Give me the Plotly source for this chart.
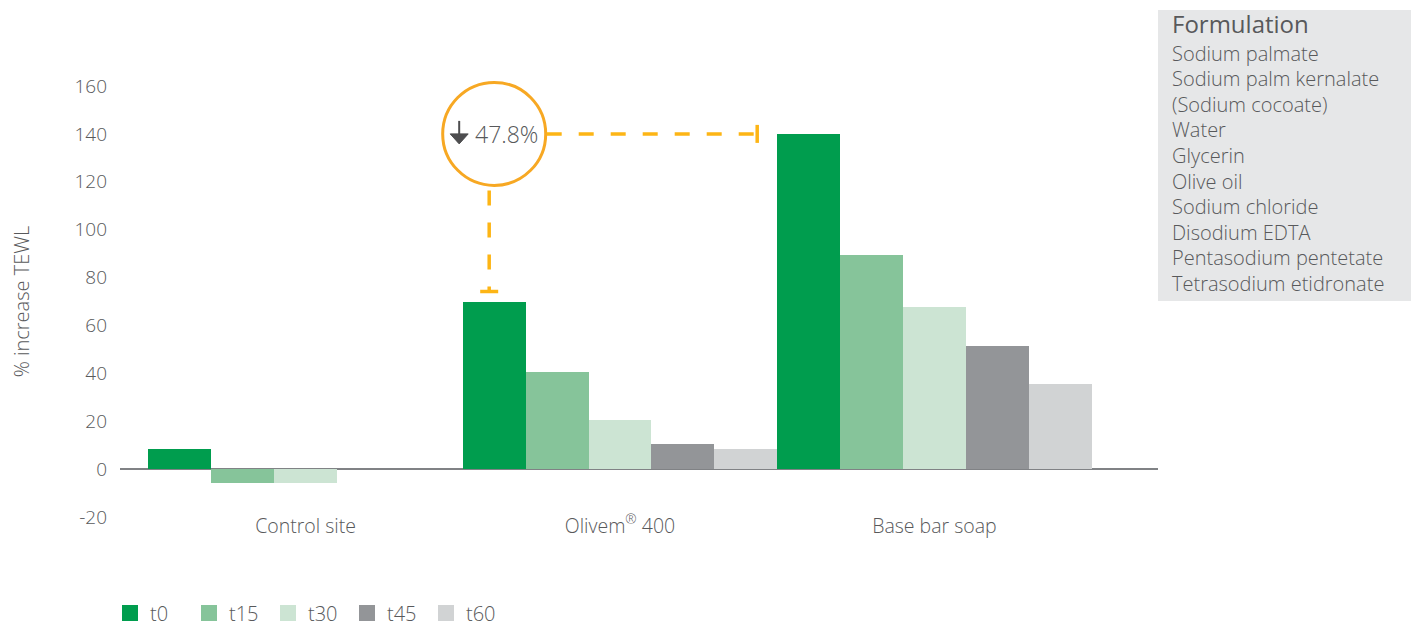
import plotly.graph_objects as go

# ---------------- data ----------------
categories = ["Control site", "Olivem® 400", "Base bar soap"]
tick_labels = ["Control site", "Olivem<sup>®</sup> 400", "Base bar soap"]
series_names = ["t0", "t15", "t30", "t45", "t60"]
t0_values = [8.5, 70, 140]
t15_values = [-6, 40.5, 89.5]
t30_values = [-6, 20.5, 67.5]
t45_values = [None, 10.5, 51.5]
t60_values = [None, 8.5, 35.5]
y_tick_values = [-20, 0, 20, 40, 60, 80, 100, 120, 140, 160]
reduction_label = "47.8%"
y_title = "% increase TEWL"
formulation_title = "Formulation"
formulation_items = [
    "Sodium palmate",
    "Sodium palm kernalate",
    "(Sodium cocoate)",
    "Water",
    "Glycerin",
    "Olive oil",
    "Sodium chloride",
    "Disodium EDTA",
    "Pentasodium pentetate",
    "Tetrasodium etidronate",
]

# ---------------- style ----------------
colors = ["#009D4E", "#86C49A", "#CCE4D3", "#939598", "#D1D3D4"]
text_color = "#58595B"
font_family = "'Open Sans', Lato, sans-serif"
font_weight = 300
orange_circle = "#F7A823"
orange_dash = "#FDB515"
arrow_color = "#4D4D4F"

W, H = 1419, 624
OFF = 8                                  # page body offset
PL, PR, PT, PB = 120, 1158, 86, 517      # plot area in page pixels
plot_w = PR - PL
plot_h = PB - PT
x_range = [-0.59, 2.711]
y_range = [-20, 160]


def pxx(p):
    return (p - PL) / plot_w


def pxy(p):
    return (PB - p) / plot_h


def dx(v):  # data x -> paper
    return (v - x_range[0]) / (x_range[1] - x_range[0])


def dy(v):  # data y -> paper
    return (v - y_range[0]) / (y_range[1] - y_range[0])


all_series = [t0_values, t15_values, t30_values, t45_values, t60_values]
n_series = len(all_series)
bar_w = 1.0 / n_series

fig = go.Figure()
for name, vals, col in zip(series_names, all_series, colors):
    fig.add_trace(go.Bar(name=name, x=categories, y=vals, marker_color=col,
                         marker_line_width=0, showlegend=False))
# legend entries (larger square swatches)
for name, col in zip(series_names, colors):
    fig.add_trace(go.Scatter(name=name, x=[None], y=[None], mode="markers",
                             marker=dict(symbol="square", size=16, color=col),
                             showlegend=True, hoverinfo="skip"))

# ---------------- reduction callout ----------------
olivem_idx = categories.index("Olivem® 400")
base_idx = categories.index("Base bar soap")
circle_x = dx(olivem_idx - 0.5 + bar_w / 2)      # centre of Olivem t0 bar (paper)
circle_y = dy(t0_values[base_idx])               # level of base soap t0 (paper)
base_bar_left = dx(base_idx - 0.5)               # left edge of base soap t0 bar (paper)
olivem_top = dy(t0_values[olivem_idx])
r = 51.5
ux = 1 / plot_w   # one pixel in paper x
uy = 1 / plot_h   # one pixel in paper y

dash_line = dict(color=orange_dash, width=3.5, dash="15px,17px")
cap_line = dict(color=orange_dash, width=3.5)
shapes = []
shapes.append(dict(type="circle", xref="paper", yref="paper", xsizemode="pixel", ysizemode="pixel",
                   xanchor=circle_x, yanchor=circle_y, x0=-r, x1=r, y0=-r, y1=r,
                   line=dict(color=orange_circle, width=3), fillcolor="rgba(0,0,0,0)"))
h_x0 = circle_x + (r + 1) * ux
h_x1 = base_bar_left - 20 * ux
shapes.append(dict(type="line", xref="paper", yref="paper", x0=h_x0, x1=h_x1,
                   y0=circle_y, y1=circle_y, line=dash_line))
shapes.append(dict(type="line", xref="paper", yref="paper", x0=h_x1, x1=h_x1,
                   y0=circle_y - 9 * uy, y1=circle_y + 9 * uy, line=cap_line))
v_x = circle_x - 5 * ux
v_y0 = circle_y - (r + 5) * uy
v_y1 = olivem_top + 10 * uy
shapes.append(dict(type="line", xref="paper", yref="paper", x0=v_x, x1=v_x, y0=v_y0, y1=v_y1,
                   line=dash_line))
shapes.append(dict(type="line", xref="paper", yref="paper",
                   x0=v_x - 9 * ux, x1=v_x + 9 * ux, y0=v_y1, y1=v_y1, line=cap_line))
# down arrow inside the circle (stem + filled head)
shapes.append(dict(type="path", xref="paper", yref="paper", xsizemode="pixel", ysizemode="pixel",
                   xanchor=circle_x, yanchor=circle_y,
                   path="M -35,13 L -35,-2", line=dict(color=arrow_color, width=2)))
shapes.append(dict(type="path", xref="paper", yref="paper", xsizemode="pixel", ysizemode="pixel",
                   xanchor=circle_x, yanchor=circle_y,
                   path="M -44,0 L -26,0 L -35,-10 Z", fillcolor=arrow_color,
                   line=dict(color=arrow_color, width=1)))

# formulation box
shapes.append(dict(type="rect", xref="paper", yref="paper", x0=pxx(1158), x1=pxx(1412),
                   y0=pxy(301), y1=pxy(10), fillcolor="#E6E7E8", line=dict(width=0),
                   layer="below"))

annotations = []
annotations.append(dict(xref="paper", yref="paper", x=circle_x, y=circle_y, xshift=12,
                        xanchor="center", yanchor="middle",
                        text=reduction_label, showarrow=False,
                        font=dict(size=23, color=text_color, family=font_family,
                                  weight=font_weight)))
annotations.append(dict(xref="paper", yref="paper", x=pxx(1170), y=pxy(24),
                        xanchor="left", yanchor="middle", text=formulation_title,
                        showarrow=False,
                        font=dict(size=24, color=text_color, family=font_family, weight=400)))
for i, item in enumerate(formulation_items):
    annotations.append(dict(xref="paper", yref="paper", x=pxx(1170), y=pxy(53 + 25.6 * i),
                            xanchor="left", yanchor="middle", text=item, showarrow=False,
                            font=dict(size=20, color=text_color, family=font_family,
                                      weight=font_weight)))

fig.update_layout(
    width=W, height=H,
    margin=dict(l=PL - OFF, r=OFF + W - PR, t=PT - OFF, b=OFF + H - PB, autoexpand=False),
    paper_bgcolor="white", plot_bgcolor="white",
    barmode="group", bargap=0, bargroupgap=0,
    font=dict(family=font_family, color=text_color, size=19, weight=font_weight),
    shapes=shapes, annotations=annotations,
    showlegend=True,
    legend=dict(orientation="h", x=pxx(110), xanchor="left", y=pxy(613), yanchor="middle",
                font=dict(size=20, color=text_color, family=font_family, weight=font_weight),
                itemwidth=30, entrywidth=34, entrywidthmode="pixels",
                bgcolor="rgba(0,0,0,0)"),
    xaxis=dict(type="category", range=x_range, tickmode="array", tickvals=categories,
               ticktext=tick_labels, showgrid=False, showline=False, ticks="",
               ticklabelstandoff=-5,
               tickfont=dict(size=19.5, color=text_color, family=font_family,
                             weight=font_weight), fixedrange=True),
    yaxis=dict(range=y_range, tickmode="array", tickvals=y_tick_values,
               ticktext=[str(v) for v in y_tick_values],
               showgrid=False, showline=False,
               zeroline=True, zerolinecolor="#808285", zerolinewidth=2,
               ticks="", ticklabelstandoff=12,
               tickfont=dict(size=19, color=text_color, family=font_family, weight=font_weight),
               title=dict(text=y_title, font=dict(size=20, color=text_color, family=font_family,
                                                  weight=font_weight), standoff=52),
               fixedrange=True),
)

fig.write_html("out.html")
